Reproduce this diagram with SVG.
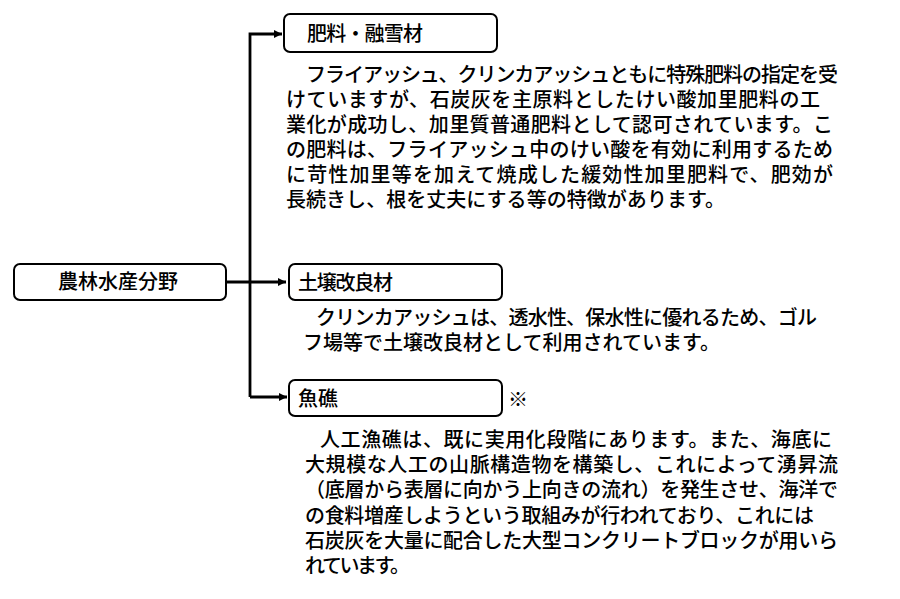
<svg xmlns="http://www.w3.org/2000/svg" width="900" height="599" viewBox="0 0 900 599">
<defs>
<style>
.box{fill:#fff;stroke:#000;stroke-width:2}
.t{font-family:"Noto Sans CJK JP","Noto Sans CJK SC",sans-serif;font-size:20px;font-weight:500;fill:#000}
.c{fill:none;stroke:#000;stroke-width:2.8}
</style>
<marker id="ah" markerWidth="10" markerHeight="10" refX="8" refY="4" orient="auto" markerUnits="userSpaceOnUse">
<path d="M0,0 L8,4 L0,8 Z" fill="#000"/>
</marker>
</defs>
<g id="connectors">
<path class="c" d="M226,282 H286" marker-end="url(#ah)"/>
<path class="c" d="M250,397 V34 H282" marker-end="url(#ah)"/>
<path class="c" d="M250,397 H287" marker-end="url(#ah)"/>
</g>
<g id="root">
<rect class="box" x="14" y="264" width="212" height="36" rx="6"/>
<text class="t" x="118" y="289" text-anchor="middle" font-size="21">農林水産分野</text>
</g>
<g id="fertilizer">
<rect class="box" x="284" y="14" width="213" height="38" rx="6"/>
<text class="t" x="307" y="41" textLength="116">肥料・融雪材</text>
</g>
<g id="fertilizer-desc">
<text class="t" x="306" y="82" textLength="532">フライアッシュ、クリンカアッシュともに特殊肥料の指定を受</text>
<text class="t" x="286" y="107" textLength="534">けていますが、石炭灰を主原料としたけい酸加里肥料の工</text>
<text class="t" x="286" y="132" textLength="547">業化が成功し、加里質普通肥料として認可されています。こ</text>
<text class="t" x="286" y="157" textLength="547">の肥料は、フライアッシュ中のけい酸を有効に利用するため</text>
<text class="t" x="286" y="182" textLength="547">に苛性加里等を加えて焼成した緩効性加里肥料で、肥効が</text>
<text class="t" x="286" y="207" textLength="439">長続きし、根を丈夫にする等の特徴があります。</text>
</g>
<g id="soil">
<rect class="box" x="289" y="264" width="213" height="36" rx="6"/>
<text class="t" x="298" y="290" textLength="95">土壌改良材</text>
</g>
<g id="soil-desc">
<text class="t" x="316" y="325" textLength="501">クリンカアッシュは、透水性、保水性に優れるため、ゴル</text>
<text class="t" x="303" y="350" textLength="417">フ場等で土壌改良材として利用されています。</text>
</g>
<g id="reef">
<rect class="box" x="289" y="380" width="213" height="36" rx="6"/>
<text class="t" x="298" y="406" font-size="21">魚礁</text>
<text class="t" x="508" y="407" font-size="24">※</text>
</g>
<g id="reef-desc">
<text class="t" x="320" y="447" textLength="512">人工漁礁は、既に実用化段階にあります。また、海底に</text>
<text class="t" x="305" y="472" textLength="533">大規模な人工の山脈構造物を構築し、これによって湧昇流</text>
<text class="t" x="305" y="497" textLength="533">（底層から表層に向かう上向きの流れ）を発生させ、海洋で</text>
<text class="t" x="305" y="523" textLength="509">の食料増産しようという取組みが行われており、これには</text>
<text class="t" x="305" y="548" textLength="533">石炭灰を大量に配合した大型コンクリートブロックが用いら</text>
<text class="t" x="305" y="573" textLength="105">れています。</text>
</g>
</svg>
